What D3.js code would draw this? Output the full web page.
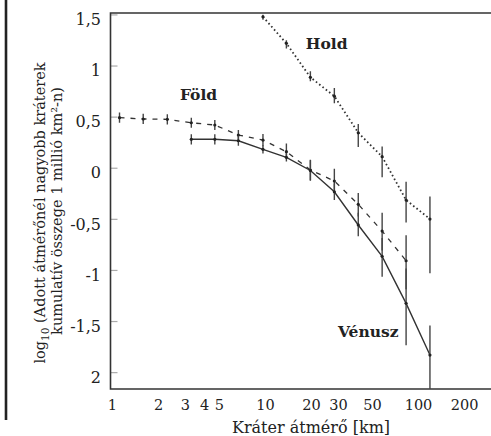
<!DOCTYPE html>
<html>
<head>
<meta charset="utf-8">
<script src="https://cdn.jsdelivr.net/npm/d3@7"></script>
<style>
  html, body { margin: 0; padding: 0; background: #fff; }
  svg { display: block; }
  text { font-family: "DejaVu Serif", "Liberation Serif", serif; fill: #222; }
</style>
</head>
<body>
<svg id="chart" width="491" height="436"></svg>
<script>
// ---------- data ----------
// crater diameters (km) of the bins, index k = 0..13
const diameters = [1.12, 1.6, 2.3, 3.3, 4.7, 6.7, 9.7, 13.8, 19.8, 28.4, 40.7, 58.3, 83.6, 119.7];

// Föld (Earth) – dashed, bins 0..12
const foldIdx   = [0, 1, 2, 3, 4, 5, 6, 7, 8, 9, 10, 11, 12];
const foldVal   = [0.49, 0.477, 0.474, 0.44, 0.418, 0.32, 0.271, 0.157, -0.022, -0.13, -0.358, -0.62, -0.91];
const foldErrHi = [0.05, 0.05, 0.05, 0.05, 0.05, 0.05, 0.06, 0.08, 0.10, 0.12, 0.11, 0.18, 0.25];
const foldErrLo = [0.05, 0.05, 0.05, 0.05, 0.05, 0.05, 0.06, 0.07, 0.10, 0.12, 0.12, 0.19, 0.28];

// Vénusz – solid, bins 3..13
const venusIdx   = [3, 4, 5, 6, 7, 8, 9, 10, 11, 12, 13];
const venusVal   = [0.278, 0.278, 0.264, 0.18, 0.102, -0.027, -0.235, -0.56, -0.867, -1.327, -1.833];
const venusErrHi = [0.05, 0.05, 0.05, 0.04, 0.04, 0.10, 0.08, 0.12, 0.18, 0.34, 0.29];
const venusErrLo = [0.05, 0.05, 0.05, 0.04, 0.04, 0.10, 0.08, 0.11, 0.20, 0.41, 0.45];

// Hold (Moon) – dotted, bins 6..13
const holdIdx   = [6, 7, 8, 9, 10, 11, 12, 13];
const holdVal   = [1.477, 1.217, 0.885, 0.70, 0.342, 0.108, -0.316, -0.502];
const holdErrHi = [0.02, 0.03, 0.06, 0.08, 0.085, 0.10, 0.18, 0.22];
const holdErrLo = [0.03, 0.05, 0.04, 0.07, 0.14, 0.20, 0.22, 0.53];

// axes ticks
const xTickValues = [1, 2, 3, 4, 5, 10, 20, 30, 50, 100, 200];
const xTickLabels = ["1", "2", "3", "4", "5", "10", "20", "30", "50", "100", "200"];
const yTickValues = [1.5, 1, 0.5, 0, -0.5, -1, -1.5, -2];
const yTickLabels = ["1,5", "1", "0,5", "0", "-0,5", "-1", "-1,5", "2"];

const seriesLabels = ["Föld", "Hold", "Vénusz"];
const xTitle = "Kráter átmérő [km]";
const yTitle1a = "log";
const yTitle1sub = "10";
const yTitle1b = " (Adott átmérőnél nagyobb kráterek";
const yTitle2 = "kumulatív összege 1 millió km²-n)";

// ---------- layout ----------
const svg = d3.select("#chart");
const plot = { left: 110.5, top: 13, right: 491, bottom: 389 };

const x = d3.scaleLog().domain([0.978, 300]).range([plot.left, plot.right]);
const y = d3.scaleLinear().domain([-2.165, 1.514]).range([plot.bottom, plot.top]);

// page edge line on the far left
svg.append("line")
  .attr("x1", 6).attr("x2", 6).attr("y1", 0).attr("y2", 420)
  .attr("stroke", "#222").attr("stroke-width", 2.6);

// clip
svg.append("clipPath").attr("id", "clip")
  .append("rect")
  .attr("x", plot.left).attr("y", plot.top)
  .attr("width", plot.right - plot.left).attr("height", plot.bottom - plot.top);

// y axis ticks (short, inside)
const yAxis = d3.axisRight(y)
  .tickValues(yTickValues)
  .tickSize(7)
  .tickFormat("");
const gy = svg.append("g").attr("transform", `translate(${plot.left},0)`).call(yAxis);
gy.select(".domain").remove();
gy.selectAll(".tick line").attr("stroke", "#aaa").attr("stroke-width", 1.2);

// y tick labels
svg.append("g").selectAll("text")
  .data(yTickValues)
  .join("text")
  .attr("x", 101)
  .attr("y", d => y(d) + 5)
  .attr("dy", "0.36em")
  .attr("text-anchor", "end")
  .attr("font-size", 16)
  .text((d, i) => yTickLabels[i]);

// x axis labels
const xAxis = d3.axisBottom(x)
  .tickValues(xTickValues)
  .tickSize(0)
  .tickPadding(11)
  .tickFormat((d, i) => xTickLabels[i]);
const gx = svg.append("g").attr("transform", `translate(0,${plot.bottom})`).call(xAxis);
gx.select(".domain").remove();
gx.selectAll(".tick text")
  .attr("font-family", "DejaVu Serif, serif")
  .attr("font-size", 14.5)
  .attr("fill", "#222");

// frame
svg.append("path")
  .attr("d", `M${plot.right},${plot.top}H${plot.left}V${plot.bottom}H${plot.right}`)
  .attr("fill", "none").attr("stroke", "#333").attr("stroke-width", 1.6);

// titles
svg.append("text")
  .attr("x", 311).attr("y", 433)
  .attr("text-anchor", "middle")
  .attr("font-size", 16)
  .text(xTitle);

const yt = svg.append("text")
  .attr("transform", "translate(45,213) rotate(-90)")
  .attr("text-anchor", "middle")
  .attr("font-size", 14.5);
yt.append("tspan").text(yTitle1a);
yt.append("tspan").attr("font-size", 10.5).attr("dy", 4).text(yTitle1sub);
yt.append("tspan").attr("dy", -4).text(yTitle1b);

svg.append("text")
  .attr("transform", "translate(62,211) rotate(-90)")
  .attr("text-anchor", "middle")
  .attr("font-size", 14.5)
  .text(yTitle2);

// ---------- series ----------
function build(idx, val, hi, lo) {
  return idx.map((k, i) => ({ d: diameters[k], v: val[i], hi: val[i] + hi[i], lo: val[i] - lo[i] }));
}
const series = [
  { data: build(foldIdx, foldVal, foldErrHi, foldErrLo), dash: "5,6", width: 1.3 },
  { data: build(venusIdx, venusVal, venusErrHi, venusErrLo), dash: null, width: 1.4 },
  { data: build(holdIdx, holdVal, holdErrHi, holdErrLo), dash: "1.6,2.6", width: 1.8 }
];

const gData = svg.append("g").attr("clip-path", "url(#clip)");
const line = d3.line().x(p => x(p.d)).y(p => y(p.v));

series.forEach(s => {
  gData.append("path")
    .datum(s.data)
    .attr("d", line)
    .attr("fill", "none")
    .attr("stroke", "#333")
    .attr("stroke-width", s.width)
    .attr("stroke-dasharray", s.dash);

  // error bars
  gData.append("g").selectAll("line")
    .data(s.data)
    .join("line")
    .attr("x1", p => x(p.d)).attr("x2", p => x(p.d))
    .attr("y1", p => y(p.hi)).attr("y2", p => y(p.lo))
    .attr("stroke", "#444").attr("stroke-width", 1.4);

  // markers
  gData.append("g").selectAll("circle")
    .data(s.data)
    .join("circle")
    .attr("cx", p => x(p.d)).attr("cy", p => y(p.v))
    .attr("r", 1.6)
    .attr("fill", "#222");
});

// series labels
const labelPos = [
  { d: 2.78, v: 0.72 },   // Föld
  { d: 18.5, v: 1.22 },   // Hold
  { d: 30, v: -1.605 }    // Vénusz
];
svg.append("g").selectAll("text")
  .data(seriesLabels)
  .join("text")
  .attr("x", (t, i) => x(labelPos[i].d))
  .attr("y", (t, i) => y(labelPos[i].v))
  .attr("dy", "0.36em")
  .attr("font-size", 15.5)
  .attr("font-weight", "bold")
  .text(t => t);
</script>
</body>
</html>
